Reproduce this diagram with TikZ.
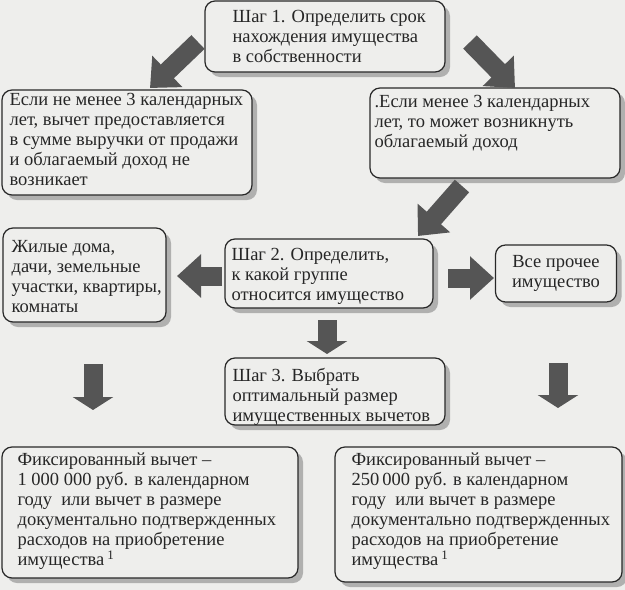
\documentclass[tikz,border=0pt]{standalone}
\usepackage{fontspec}
\setmainfont{Liberation Serif}
\usepackage{tikz}
\usetikzlibrary{arrows.meta,shadows,calc}
\definecolor{PaperFill}{RGB}{238,238,236}
\definecolor{BoxLine}{RGB}{40,40,40}
\definecolor{ArrFill}{RGB}{85,85,85}
\definecolor{ShdFill}{RGB}{150,150,150}
\tikzset{
  nd_box/.style={
    rectangle, rounded corners=10pt,
    draw=BoxLine, line width=1.2pt, fill=PaperFill,
    drop shadow={shadow xshift=5pt, shadow yshift=-5pt,
      fill=ShdFill, opacity=0.7},
    inner sep=0pt},
  nd_txt/.style={
    anchor=north west, inner sep=0pt, align=left,
    text=black!85, font=\fontsize{18.5}{20}\selectfont},
  arr_blk/.style={
    draw=ArrFill, line width=19pt,
    -{Triangle[length=13pt,width=40pt,fill=ArrFill]}},
  arr_lng/.style={
    draw=ArrFill, line width=19pt,
    -{Triangle[length=24pt,width=42pt,fill=ArrFill]}},
}
\begin{document}
\begin{tikzpicture}[x=1pt,y=-1pt]
\useasboundingbox[fill=PaperFill] (0,0) rectangle (625,590);

% step 1 and the two outcomes
\node[nd_box, minimum width=240, minimum height=71] (step1) at (325,36.5) {};
\node[nd_txt] (step1t) at ($(step1.north west)+(28,10)$)
  {Шаг 1. Определить срок\\нахождения имущества\\в собственности};
\node[nd_box, minimum width=250, minimum height=105] (boxA) at (127,142.5) {};
\node[nd_txt] (boxAt) at ($(boxA.north west)+(8,4)$)
  {Если не менее 3 календарных\\лет, вычет предоставляется\\в сумме выручки от продажи\\и облагаемый доход не\\возникает};
\node[nd_box, minimum width=250, minimum height=90] (boxB) at (495,133) {};
\node[nd_txt] (boxBt) at ($(boxB.north west)+(5,8)$)
  {.Если менее 3 календарных\\лет, то может возникнуть\\облагаемый доход};

% step 2
\node[nd_box, minimum width=208, minimum height=69] (step2) at (329,273.5) {};
\node[nd_txt] (step2t) at ($(step2.north west)+(7,10)$)
  {Шаг 2. Определить,\\к какой группе\\относится имущество};
\node[nd_box, minimum width=163, minimum height=94] (boxC) at (84.5,275) {};
\node[nd_txt] (boxCt) at ($(boxC.north west)+(9,13)$)
  {Жилые дома,\\дачи, земельные\\участки, квартиры,\\комнаты};
\node[nd_box, minimum width=121, minimum height=57] (boxD) at (556,273.5) {};
\node[nd_txt, anchor=center, align=center] (boxDt) at (boxD.center)
  {Все прочее\\имущество};

% step 3 and the deductions
\node[nd_box, minimum width=220, minimum height=67] (step3) at (335,391.5) {};
\node[nd_txt] (step3t) at ($(step3.north west)+(8,11)$)
  {Шаг 3. Выбрать\\оптимальный размер\\имущественных вычетов};
\node[nd_box, minimum width=296, minimum height=131] (boxE) at (150,512.5) {};
\node[nd_txt] (boxEt) at ($(boxE.north west)+(16,6)$)
  {Фиксированный вычет –\\1 000 000 руб. в календарном\\году\ \ или вычет в размере\\документально подтвержденных\\расходов на приобретение\\имущества\,\textsuperscript{1}};
\node[nd_box, minimum width=287, minimum height=135] (boxF) at (478.5,514.5) {};
\node[nd_txt] (boxFt) at ($(boxF.north west)+(17,6)$)
  {Фиксированный вычет –\\250\,000 руб. в календарном\\году\ \ или вычет в размере\\документально подтвержденных\\расходов на приобретение\\имущества\,\textsuperscript{1}};

% block arrows
\coordinate (a1s) at (198,42);  \coordinate (a1e) at (150,88);
\coordinate (a2s) at (470,42);  \coordinate (a2e) at (515,88);
\coordinate (a3s) at (462,186); \coordinate (a3e) at (418,236);
\coordinate (a4s) at (222,276); \coordinate (a4e) at (177,276);
\coordinate (a5s) at (448,278); \coordinate (a5e) at (494,278);
\coordinate (a6s) at (327,320); \coordinate (a6e) at (327,354);
\coordinate (a7s) at (93,364);  \coordinate (a7e) at (93,410);
\coordinate (a8s) at (558,363); \coordinate (a8e) at (558,408);
\foreach \k in {1,...,5}
  \draw[arr_lng] (a\k s) -- (a\k e);
\foreach \k in {6,7,8}
  \draw[arr_blk] (a\k s) -- (a\k e);
\end{tikzpicture}
\end{document}
